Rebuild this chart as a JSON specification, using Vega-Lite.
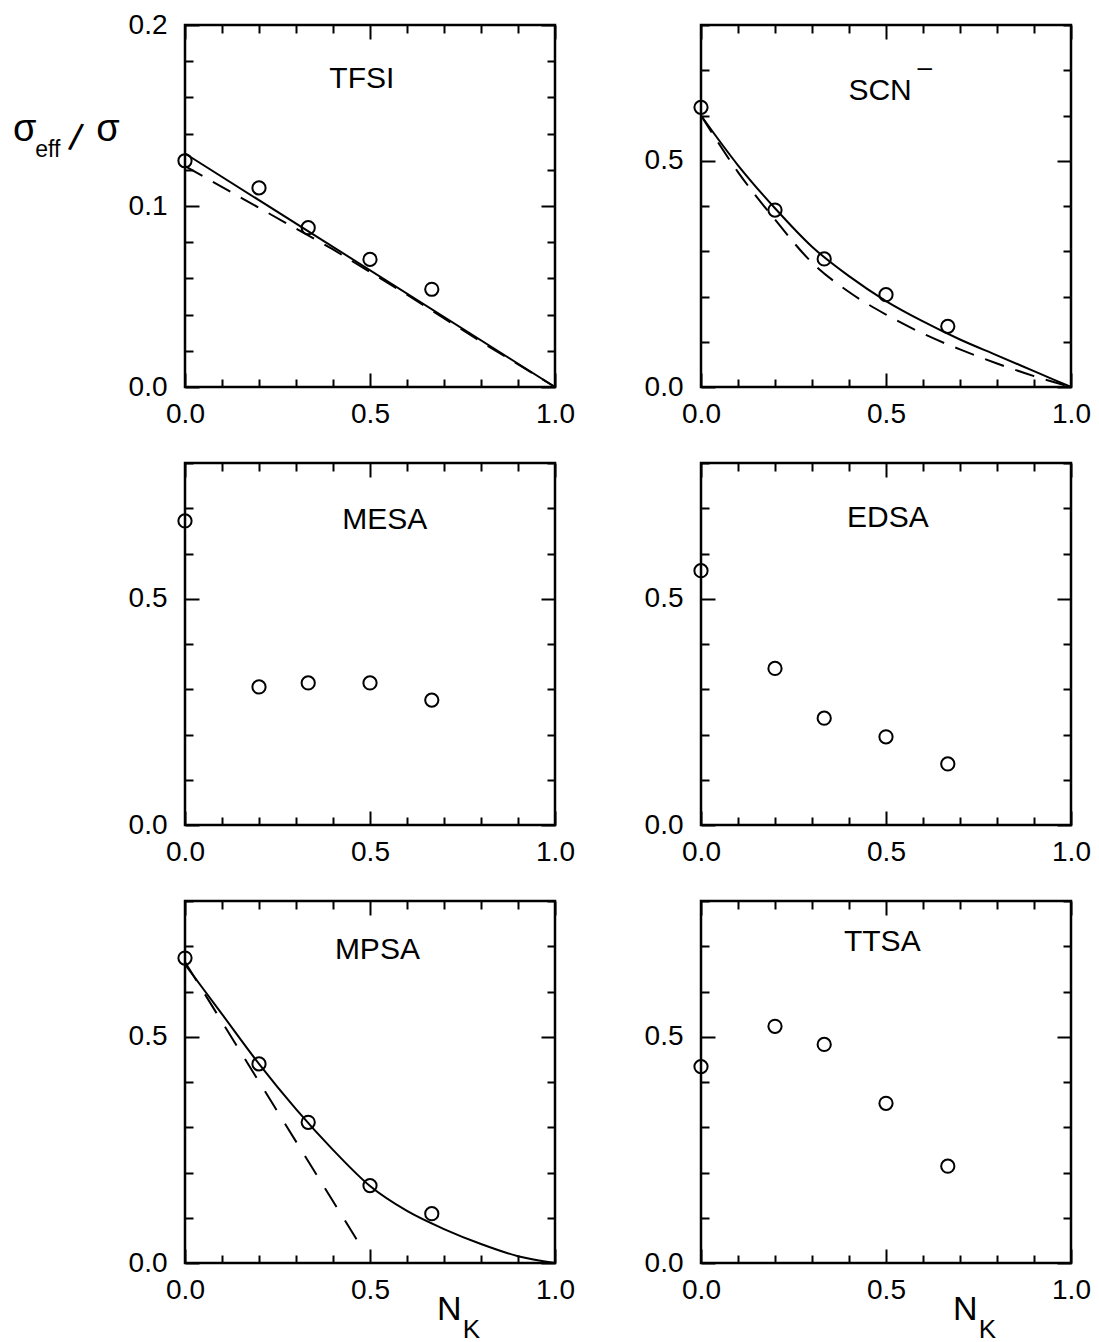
{
  "$schema": "https://vega.github.io/schema/vega-lite/v6.json",
  "padding": {"left": 11, "top": 9, "right": 5, "bottom": 2},
  "background": "white",
  "config": {
    "view": {"stroke": "black", "strokeWidth": 2.5},
    "axis": {"domain": false, "grid": false, "tickColor": "black", "tickWidth": 2, "labelFont": "Liberation Sans", "labelFontSize": 28, "labelColor": "black", "labelFlush": false, "labelOverlap": false, "title": null},
    "text": {"font": "Liberation Sans", "fill": "black"}
  },
  "datasets": {
    "one": [{"k": 1}],
    "points": [
      {"panel": "TFSI", "x": 0, "y": 0.125}, {"panel": "TFSI", "x": 0.2, "y": 0.110}, {"panel": "TFSI", "x": 0.333, "y": 0.088}, {"panel": "TFSI", "x": 0.5, "y": 0.0705}, {"panel": "TFSI", "x": 0.667, "y": 0.054},
      {"panel": "SCN", "x": 0, "y": 0.618}, {"panel": "SCN", "x": 0.2, "y": 0.391}, {"panel": "SCN", "x": 0.333, "y": 0.283}, {"panel": "SCN", "x": 0.5, "y": 0.204}, {"panel": "SCN", "x": 0.667, "y": 0.134},
      {"panel": "MESA", "x": 0, "y": 0.672}, {"panel": "MESA", "x": 0.2, "y": 0.305}, {"panel": "MESA", "x": 0.333, "y": 0.314}, {"panel": "MESA", "x": 0.5, "y": 0.314}, {"panel": "MESA", "x": 0.667, "y": 0.276},
      {"panel": "EDSA", "x": 0, "y": 0.562}, {"panel": "EDSA", "x": 0.2, "y": 0.346}, {"panel": "EDSA", "x": 0.333, "y": 0.236}, {"panel": "EDSA", "x": 0.5, "y": 0.195}, {"panel": "EDSA", "x": 0.667, "y": 0.135},
      {"panel": "MPSA", "x": 0, "y": 0.674}, {"panel": "MPSA", "x": 0.2, "y": 0.440}, {"panel": "MPSA", "x": 0.333, "y": 0.311}, {"panel": "MPSA", "x": 0.5, "y": 0.171}, {"panel": "MPSA", "x": 0.667, "y": 0.109},
      {"panel": "TTSA", "x": 0, "y": 0.434}, {"panel": "TTSA", "x": 0.2, "y": 0.523}, {"panel": "TTSA", "x": 0.333, "y": 0.483}, {"panel": "TTSA", "x": 0.5, "y": 0.353}, {"panel": "TTSA", "x": 0.667, "y": 0.214}
    ],
    "lines": [
      {"panel": "TFSI", "model": "solid", "x": 0, "y": 0.129}, {"panel": "TFSI", "model": "solid", "x": 1, "y": 0},
      {"panel": "TFSI", "model": "dashed", "x": 0, "y": 0.122}, {"panel": "TFSI", "model": "dashed", "x": 0.2, "y": 0.099}, {"panel": "TFSI", "model": "dashed", "x": 0.4, "y": 0.076}, {"panel": "TFSI", "model": "dashed", "x": 0.6, "y": 0.051}, {"panel": "TFSI", "model": "dashed", "x": 0.8, "y": 0.025}, {"panel": "TFSI", "model": "dashed", "x": 1, "y": 0},
      {"panel": "SCN", "model": "solid", "x": 0, "y": 0.60}, {"panel": "SCN", "model": "solid", "x": 0.1, "y": 0.49}, {"panel": "SCN", "model": "solid", "x": 0.2, "y": 0.395}, {"panel": "SCN", "model": "solid", "x": 0.3, "y": 0.31}, {"panel": "SCN", "model": "solid", "x": 0.4, "y": 0.245}, {"panel": "SCN", "model": "solid", "x": 0.5, "y": 0.19}, {"panel": "SCN", "model": "solid", "x": 0.6, "y": 0.145}, {"panel": "SCN", "model": "solid", "x": 0.7, "y": 0.105}, {"panel": "SCN", "model": "solid", "x": 0.8, "y": 0.07}, {"panel": "SCN", "model": "solid", "x": 0.9, "y": 0.035}, {"panel": "SCN", "model": "solid", "x": 1, "y": 0},
      {"panel": "SCN", "model": "dashed", "x": 0, "y": 0.60}, {"panel": "SCN", "model": "dashed", "x": 0.1, "y": 0.475}, {"panel": "SCN", "model": "dashed", "x": 0.2, "y": 0.37}, {"panel": "SCN", "model": "dashed", "x": 0.3, "y": 0.275}, {"panel": "SCN", "model": "dashed", "x": 0.4, "y": 0.21}, {"panel": "SCN", "model": "dashed", "x": 0.5, "y": 0.16}, {"panel": "SCN", "model": "dashed", "x": 0.6, "y": 0.118}, {"panel": "SCN", "model": "dashed", "x": 0.7, "y": 0.083}, {"panel": "SCN", "model": "dashed", "x": 0.8, "y": 0.052}, {"panel": "SCN", "model": "dashed", "x": 0.9, "y": 0.024}, {"panel": "SCN", "model": "dashed", "x": 1, "y": 0},
      {"panel": "MPSA", "model": "solid", "x": 0, "y": 0.66}, {"panel": "MPSA", "model": "solid", "x": 0.1, "y": 0.55}, {"panel": "MPSA", "model": "solid", "x": 0.2, "y": 0.44}, {"panel": "MPSA", "model": "solid", "x": 0.3, "y": 0.34}, {"panel": "MPSA", "model": "solid", "x": 0.4, "y": 0.25}, {"panel": "MPSA", "model": "solid", "x": 0.5, "y": 0.17}, {"panel": "MPSA", "model": "solid", "x": 0.6, "y": 0.115}, {"panel": "MPSA", "model": "solid", "x": 0.7, "y": 0.075}, {"panel": "MPSA", "model": "solid", "x": 0.8, "y": 0.042}, {"panel": "MPSA", "model": "solid", "x": 0.9, "y": 0.015}, {"panel": "MPSA", "model": "solid", "x": 1, "y": 0},
      {"panel": "MPSA", "model": "dashed", "x": 0, "y": 0.665}, {"panel": "MPSA", "model": "dashed", "x": 0.473, "y": 0.04}
    ]
  },
  "columns": 2,
  "bounds": "flush",
  "spacing": {"row": 76, "column": 146},
  "concat": [
    {
      "width": 370, "height": 362,
      "resolve": {"axis": {"x": "independent", "y": "independent"}},
      "layer": [
        {"data": {"name": "lines"}, "transform": [{"filter": "datum.panel == 'TFSI' && datum.model == 'solid'"}],
         "mark": {"type": "line", "color": "black", "strokeWidth": 2},
         "encoding": {"x": {"field": "x", "type": "quantitative", "scale": {"domain": [0, 1], "nice": false}, "axis": null}, "y": {"field": "y", "type": "quantitative", "scale": {"domain": [0, 0.2], "nice": false}, "axis": null}}},
        {"data": {"name": "lines"}, "transform": [{"filter": "datum.panel == 'TFSI' && datum.model == 'dashed'"}],
         "mark": {"type": "line", "color": "black", "strokeWidth": 2, "strokeDash": [20, 12]},
         "encoding": {"x": {"field": "x", "type": "quantitative", "scale": {"domain": [0, 1], "nice": false}, "axis": null}, "y": {"field": "y", "type": "quantitative", "scale": {"domain": [0, 0.2], "nice": false}, "axis": null}}},
        {"data": {"name": "points"}, "transform": [{"filter": "datum.panel == 'TFSI'"}],
         "mark": {"type": "point", "shape": "circle", "filled": false, "size": 175, "stroke": "black", "strokeWidth": 2, "opacity": 1},
         "encoding": {
           "x": {"field": "x", "type": "quantitative", "scale": {"domain": [0, 1], "nice": false},
                 "axis": {"orient": "bottom", "values": [0, 0.1, 0.2, 0.3, 0.4, 0.5, 0.6, 0.7, 0.8, 0.9, 1], "labelExpr": "datum.value == 0 || datum.value == 0.5 || datum.value == 1 ? format(datum.value, '.1f') : ''", "tickSize": {"condition": {"test": "datum.value == 0 || datum.value == 0.5 || datum.value == 1", "value": -14}, "value": -8}, "labelPadding": 27}},
           "y": {"field": "y", "type": "quantitative", "scale": {"domain": [0, 0.2], "nice": false},
                 "axis": {"orient": "left", "values": [0, 0.02, 0.04, 0.06, 0.08, 0.1, 0.12, 0.14, 0.16, 0.18, 0.2], "labelExpr": "datum.value == 0 || datum.value == 0.1 || datum.value == 0.2 ? format(datum.value, '.1f') : ''", "tickSize": {"condition": {"test": "datum.value == 0 || datum.value == 0.1 || datum.value == 0.2", "value": -14}, "value": -8}, "labelPadding": 32}}
         }},
        {"data": {"name": "one"},
         "mark": {"type": "text", "fontSize": 30, "align": "center", "baseline": "middle"},
         "encoding": {
           "x": {"datum": 0.478, "type": "quantitative", "scale": {"domain": [0, 1], "nice": false},
                 "axis": {"orient": "top", "values": [0, 0.1, 0.2, 0.3, 0.4, 0.5, 0.6, 0.7, 0.8, 0.9, 1], "labels": false, "tickSize": {"condition": {"test": "datum.value == 0 || datum.value == 0.5 || datum.value == 1", "value": -14}, "value": -8}}},
           "y": {"datum": 0.17, "type": "quantitative", "scale": {"domain": [0, 0.2], "nice": false},
                 "axis": {"orient": "right", "values": [0, 0.02, 0.04, 0.06, 0.08, 0.1, 0.12, 0.14, 0.16, 0.18, 0.2], "labels": false, "tickSize": {"condition": {"test": "datum.value == 0 || datum.value == 0.1 || datum.value == 0.2", "value": -14}, "value": -8}}},
           "text": {"value": "TFSI"}
         }},
        {"data": {"name": "one"},
         "mark": {"type": "text", "fontSize": 38, "align": "left", "baseline": "middle"},
         "encoding": {"x": {"datum": -0.465, "type": "quantitative", "scale": {"domain": [0, 1], "nice": false}, "axis": null}, "y": {"datum": 0.142, "type": "quantitative", "scale": {"domain": [0, 0.2], "nice": false}, "axis": null}, "text": {"value": "σ"}}},
        {"data": {"name": "one"},
         "mark": {"type": "text", "fontSize": 23, "align": "left", "baseline": "middle"},
         "encoding": {"x": {"datum": -0.405, "type": "quantitative", "scale": {"domain": [0, 1], "nice": false}, "axis": null}, "y": {"datum": 0.131, "type": "quantitative", "scale": {"domain": [0, 0.2], "nice": false}, "axis": null}, "text": {"value": "eff"}}},
        {"data": {"name": "one"},
         "mark": {"type": "text", "fontSize": 38, "align": "left", "baseline": "middle", "angle": 12},
         "encoding": {"x": {"datum": -0.31, "type": "quantitative", "scale": {"domain": [0, 1], "nice": false}, "axis": null}, "y": {"datum": 0.1375, "type": "quantitative", "scale": {"domain": [0, 0.2], "nice": false}, "axis": null}, "text": {"value": "/"}}},
        {"data": {"name": "one"},
         "mark": {"type": "text", "fontSize": 38, "align": "left", "baseline": "middle"},
         "encoding": {"x": {"datum": -0.24, "type": "quantitative", "scale": {"domain": [0, 1], "nice": false}, "axis": null}, "y": {"datum": 0.142, "type": "quantitative", "scale": {"domain": [0, 0.2], "nice": false}, "axis": null}, "text": {"value": "σ"}}}
      ]
    },
    {
      "width": 370, "height": 362,
      "resolve": {"axis": {"x": "independent", "y": "independent"}},
      "layer": [
        {"data": {"name": "lines"}, "transform": [{"filter": "datum.panel == 'SCN' && datum.model == 'solid'"}],
         "mark": {"type": "line", "color": "black", "strokeWidth": 2, "interpolate": "monotone"},
         "encoding": {"x": {"field": "x", "type": "quantitative", "scale": {"domain": [0, 1], "nice": false}, "axis": null}, "y": {"field": "y", "type": "quantitative", "scale": {"domain": [0, 0.8], "nice": false}, "axis": null}}},
        {"data": {"name": "lines"}, "transform": [{"filter": "datum.panel == 'SCN' && datum.model == 'dashed'"}],
         "mark": {"type": "line", "color": "black", "strokeWidth": 2, "strokeDash": [20, 12], "interpolate": "monotone"},
         "encoding": {"x": {"field": "x", "type": "quantitative", "scale": {"domain": [0, 1], "nice": false}, "axis": null}, "y": {"field": "y", "type": "quantitative", "scale": {"domain": [0, 0.8], "nice": false}, "axis": null}}},
        {"data": {"name": "points"}, "transform": [{"filter": "datum.panel == 'SCN'"}],
         "mark": {"type": "point", "shape": "circle", "filled": false, "size": 175, "stroke": "black", "strokeWidth": 2, "opacity": 1},
         "encoding": {
           "x": {"field": "x", "type": "quantitative", "scale": {"domain": [0, 1], "nice": false},
                 "axis": {"orient": "bottom", "values": [0, 0.1, 0.2, 0.3, 0.4, 0.5, 0.6, 0.7, 0.8, 0.9, 1], "labelExpr": "datum.value == 0 || datum.value == 0.5 || datum.value == 1 ? format(datum.value, '.1f') : ''", "tickSize": {"condition": {"test": "datum.value == 0 || datum.value == 0.5 || datum.value == 1", "value": -14}, "value": -8}, "labelPadding": 27}},
           "y": {"field": "y", "type": "quantitative", "scale": {"domain": [0, 0.8], "nice": false},
                 "axis": {"orient": "left", "values": [0, 0.1, 0.2, 0.3, 0.4, 0.5, 0.6, 0.7, 0.8], "labelExpr": "datum.value == 0 || datum.value == 0.5 ? format(datum.value, '.1f') : ''", "tickSize": {"condition": {"test": "datum.value == 0 || datum.value == 0.5", "value": -14}, "value": -8}, "labelPadding": 32}}
         }},
        {"data": {"name": "one"},
         "mark": {"type": "text", "fontSize": 30, "align": "center", "baseline": "middle"},
         "encoding": {
           "x": {"datum": 0.484, "type": "quantitative", "scale": {"domain": [0, 1], "nice": false},
                 "axis": {"orient": "top", "values": [0, 0.1, 0.2, 0.3, 0.4, 0.5, 0.6, 0.7, 0.8, 0.9, 1], "labels": false, "tickSize": {"condition": {"test": "datum.value == 0 || datum.value == 0.5 || datum.value == 1", "value": -14}, "value": -8}}},
           "y": {"datum": 0.655, "type": "quantitative", "scale": {"domain": [0, 0.8], "nice": false},
                 "axis": {"orient": "right", "values": [0, 0.1, 0.2, 0.3, 0.4, 0.5, 0.6, 0.7, 0.8], "labels": false, "tickSize": {"condition": {"test": "datum.value == 0 || datum.value == 0.5", "value": -14}, "value": -8}}},
           "text": {"value": "SCN"}
         }},
        {"data": {"name": "one"},
         "mark": {"type": "text", "fontSize": 26, "align": "center", "baseline": "middle"},
         "encoding": {"x": {"datum": 0.605, "type": "quantitative", "scale": {"domain": [0, 1], "nice": false}, "axis": null}, "y": {"datum": 0.705, "type": "quantitative", "scale": {"domain": [0, 0.8], "nice": false}, "axis": null}, "text": {"value": "–"}}}
      ]
    },
    {
      "width": 370, "height": 362,
      "resolve": {"axis": {"x": "independent", "y": "independent"}},
      "layer": [
        {"data": {"name": "points"}, "transform": [{"filter": "datum.panel == 'MESA'"}],
         "mark": {"type": "point", "shape": "circle", "filled": false, "size": 175, "stroke": "black", "strokeWidth": 2, "opacity": 1},
         "encoding": {
           "x": {"field": "x", "type": "quantitative", "scale": {"domain": [0, 1], "nice": false},
                 "axis": {"orient": "bottom", "values": [0, 0.1, 0.2, 0.3, 0.4, 0.5, 0.6, 0.7, 0.8, 0.9, 1], "labelExpr": "datum.value == 0 || datum.value == 0.5 || datum.value == 1 ? format(datum.value, '.1f') : ''", "tickSize": {"condition": {"test": "datum.value == 0 || datum.value == 0.5 || datum.value == 1", "value": -14}, "value": -8}, "labelPadding": 27}},
           "y": {"field": "y", "type": "quantitative", "scale": {"domain": [0, 0.8], "nice": false},
                 "axis": {"orient": "left", "values": [0, 0.1, 0.2, 0.3, 0.4, 0.5, 0.6, 0.7, 0.8], "labelExpr": "datum.value == 0 || datum.value == 0.5 ? format(datum.value, '.1f') : ''", "tickSize": {"condition": {"test": "datum.value == 0 || datum.value == 0.5", "value": -14}, "value": -8}, "labelPadding": 32}}
         }},
        {"data": {"name": "one"},
         "mark": {"type": "text", "fontSize": 30, "align": "center", "baseline": "middle"},
         "encoding": {
           "x": {"datum": 0.54, "type": "quantitative", "scale": {"domain": [0, 1], "nice": false},
                 "axis": {"orient": "top", "values": [0, 0.1, 0.2, 0.3, 0.4, 0.5, 0.6, 0.7, 0.8, 0.9, 1], "labels": false, "tickSize": {"condition": {"test": "datum.value == 0 || datum.value == 0.5 || datum.value == 1", "value": -14}, "value": -8}}},
           "y": {"datum": 0.674, "type": "quantitative", "scale": {"domain": [0, 0.8], "nice": false},
                 "axis": {"orient": "right", "values": [0, 0.1, 0.2, 0.3, 0.4, 0.5, 0.6, 0.7, 0.8], "labels": false, "tickSize": {"condition": {"test": "datum.value == 0 || datum.value == 0.5", "value": -14}, "value": -8}}},
           "text": {"value": "MESA"}
         }}
      ]
    },
    {
      "width": 370, "height": 362,
      "resolve": {"axis": {"x": "independent", "y": "independent"}},
      "layer": [
        {"data": {"name": "points"}, "transform": [{"filter": "datum.panel == 'EDSA'"}],
         "mark": {"type": "point", "shape": "circle", "filled": false, "size": 175, "stroke": "black", "strokeWidth": 2, "opacity": 1},
         "encoding": {
           "x": {"field": "x", "type": "quantitative", "scale": {"domain": [0, 1], "nice": false},
                 "axis": {"orient": "bottom", "values": [0, 0.1, 0.2, 0.3, 0.4, 0.5, 0.6, 0.7, 0.8, 0.9, 1], "labelExpr": "datum.value == 0 || datum.value == 0.5 || datum.value == 1 ? format(datum.value, '.1f') : ''", "tickSize": {"condition": {"test": "datum.value == 0 || datum.value == 0.5 || datum.value == 1", "value": -14}, "value": -8}, "labelPadding": 27}},
           "y": {"field": "y", "type": "quantitative", "scale": {"domain": [0, 0.8], "nice": false},
                 "axis": {"orient": "left", "values": [0, 0.1, 0.2, 0.3, 0.4, 0.5, 0.6, 0.7, 0.8], "labelExpr": "datum.value == 0 || datum.value == 0.5 ? format(datum.value, '.1f') : ''", "tickSize": {"condition": {"test": "datum.value == 0 || datum.value == 0.5", "value": -14}, "value": -8}, "labelPadding": 32}}
         }},
        {"data": {"name": "one"},
         "mark": {"type": "text", "fontSize": 30, "align": "center", "baseline": "middle"},
         "encoding": {
           "x": {"datum": 0.505, "type": "quantitative", "scale": {"domain": [0, 1], "nice": false},
                 "axis": {"orient": "top", "values": [0, 0.1, 0.2, 0.3, 0.4, 0.5, 0.6, 0.7, 0.8, 0.9, 1], "labels": false, "tickSize": {"condition": {"test": "datum.value == 0 || datum.value == 0.5 || datum.value == 1", "value": -14}, "value": -8}}},
           "y": {"datum": 0.678, "type": "quantitative", "scale": {"domain": [0, 0.8], "nice": false},
                 "axis": {"orient": "right", "values": [0, 0.1, 0.2, 0.3, 0.4, 0.5, 0.6, 0.7, 0.8], "labels": false, "tickSize": {"condition": {"test": "datum.value == 0 || datum.value == 0.5", "value": -14}, "value": -8}}},
           "text": {"value": "EDSA"}
         }}
      ]
    },
    {
      "width": 370, "height": 362,
      "resolve": {"axis": {"x": "independent", "y": "independent"}},
      "layer": [
        {"data": {"name": "lines"}, "transform": [{"filter": "datum.panel == 'MPSA' && datum.model == 'solid'"}],
         "mark": {"type": "line", "color": "black", "strokeWidth": 2, "interpolate": "monotone"},
         "encoding": {"x": {"field": "x", "type": "quantitative", "scale": {"domain": [0, 1], "nice": false}, "axis": null}, "y": {"field": "y", "type": "quantitative", "scale": {"domain": [0, 0.8], "nice": false}, "axis": null}}},
        {"data": {"name": "lines"}, "transform": [{"filter": "datum.panel == 'MPSA' && datum.model == 'dashed'"}],
         "mark": {"type": "line", "color": "black", "strokeWidth": 2, "strokeDash": [22, 16]},
         "encoding": {"x": {"field": "x", "type": "quantitative", "scale": {"domain": [0, 1], "nice": false}, "axis": null}, "y": {"field": "y", "type": "quantitative", "scale": {"domain": [0, 0.8], "nice": false}, "axis": null}}},
        {"data": {"name": "points"}, "transform": [{"filter": "datum.panel == 'MPSA'"}],
         "mark": {"type": "point", "shape": "circle", "filled": false, "size": 175, "stroke": "black", "strokeWidth": 2, "opacity": 1},
         "encoding": {
           "x": {"field": "x", "type": "quantitative", "scale": {"domain": [0, 1], "nice": false},
                 "axis": {"orient": "bottom", "values": [0, 0.1, 0.2, 0.3, 0.4, 0.5, 0.6, 0.7, 0.8, 0.9, 1], "labelExpr": "datum.value == 0 || datum.value == 0.5 || datum.value == 1 ? format(datum.value, '.1f') : ''", "tickSize": {"condition": {"test": "datum.value == 0 || datum.value == 0.5 || datum.value == 1", "value": -14}, "value": -8}, "labelPadding": 27}},
           "y": {"field": "y", "type": "quantitative", "scale": {"domain": [0, 0.8], "nice": false},
                 "axis": {"orient": "left", "values": [0, 0.1, 0.2, 0.3, 0.4, 0.5, 0.6, 0.7, 0.8], "labelExpr": "datum.value == 0 || datum.value == 0.5 ? format(datum.value, '.1f') : ''", "tickSize": {"condition": {"test": "datum.value == 0 || datum.value == 0.5", "value": -14}, "value": -8}, "labelPadding": 32}}
         }},
        {"data": {"name": "one"},
         "mark": {"type": "text", "fontSize": 30, "align": "center", "baseline": "middle"},
         "encoding": {
           "x": {"datum": 0.52, "type": "quantitative", "scale": {"domain": [0, 1], "nice": false},
                 "axis": {"orient": "top", "values": [0, 0.1, 0.2, 0.3, 0.4, 0.5, 0.6, 0.7, 0.8, 0.9, 1], "labels": false, "tickSize": {"condition": {"test": "datum.value == 0 || datum.value == 0.5 || datum.value == 1", "value": -14}, "value": -8}}},
           "y": {"datum": 0.692, "type": "quantitative", "scale": {"domain": [0, 0.8], "nice": false},
                 "axis": {"orient": "right", "values": [0, 0.1, 0.2, 0.3, 0.4, 0.5, 0.6, 0.7, 0.8], "labels": false, "tickSize": {"condition": {"test": "datum.value == 0 || datum.value == 0.5", "value": -14}, "value": -8}}},
           "text": {"value": "MPSA"}
         }},
        {"data": {"name": "one"},
         "mark": {"type": "text", "fontSize": 34, "align": "center", "baseline": "middle"},
         "encoding": {"x": {"datum": 0.714, "type": "quantitative", "scale": {"domain": [0, 1], "nice": false}, "axis": null}, "y": {"datum": -0.104, "type": "quantitative", "scale": {"domain": [0, 0.8], "nice": false}, "axis": null}, "text": {"value": "N"}}},
        {"data": {"name": "one"},
         "mark": {"type": "text", "fontSize": 26, "align": "center", "baseline": "middle"},
         "encoding": {"x": {"datum": 0.774, "type": "quantitative", "scale": {"domain": [0, 1], "nice": false}, "axis": null}, "y": {"datum": -0.148, "type": "quantitative", "scale": {"domain": [0, 0.8], "nice": false}, "axis": null}, "text": {"value": "K"}}}
      ]
    },
    {
      "width": 370, "height": 362,
      "resolve": {"axis": {"x": "independent", "y": "independent"}},
      "layer": [
        {"data": {"name": "points"}, "transform": [{"filter": "datum.panel == 'TTSA'"}],
         "mark": {"type": "point", "shape": "circle", "filled": false, "size": 175, "stroke": "black", "strokeWidth": 2, "opacity": 1},
         "encoding": {
           "x": {"field": "x", "type": "quantitative", "scale": {"domain": [0, 1], "nice": false},
                 "axis": {"orient": "bottom", "values": [0, 0.1, 0.2, 0.3, 0.4, 0.5, 0.6, 0.7, 0.8, 0.9, 1], "labelExpr": "datum.value == 0 || datum.value == 0.5 || datum.value == 1 ? format(datum.value, '.1f') : ''", "tickSize": {"condition": {"test": "datum.value == 0 || datum.value == 0.5 || datum.value == 1", "value": -14}, "value": -8}, "labelPadding": 27}},
           "y": {"field": "y", "type": "quantitative", "scale": {"domain": [0, 0.8], "nice": false},
                 "axis": {"orient": "left", "values": [0, 0.1, 0.2, 0.3, 0.4, 0.5, 0.6, 0.7, 0.8], "labelExpr": "datum.value == 0 || datum.value == 0.5 ? format(datum.value, '.1f') : ''", "tickSize": {"condition": {"test": "datum.value == 0 || datum.value == 0.5", "value": -14}, "value": -8}, "labelPadding": 32}}
         }},
        {"data": {"name": "one"},
         "mark": {"type": "text", "fontSize": 30, "align": "center", "baseline": "middle"},
         "encoding": {
           "x": {"datum": 0.49, "type": "quantitative", "scale": {"domain": [0, 1], "nice": false},
                 "axis": {"orient": "top", "values": [0, 0.1, 0.2, 0.3, 0.4, 0.5, 0.6, 0.7, 0.8, 0.9, 1], "labels": false, "tickSize": {"condition": {"test": "datum.value == 0 || datum.value == 0.5 || datum.value == 1", "value": -14}, "value": -8}}},
           "y": {"datum": 0.709, "type": "quantitative", "scale": {"domain": [0, 0.8], "nice": false},
                 "axis": {"orient": "right", "values": [0, 0.1, 0.2, 0.3, 0.4, 0.5, 0.6, 0.7, 0.8], "labels": false, "tickSize": {"condition": {"test": "datum.value == 0 || datum.value == 0.5", "value": -14}, "value": -8}}},
           "text": {"value": "TTSA"}
         }},
        {"data": {"name": "one"},
         "mark": {"type": "text", "fontSize": 34, "align": "center", "baseline": "middle"},
         "encoding": {"x": {"datum": 0.714, "type": "quantitative", "scale": {"domain": [0, 1], "nice": false}, "axis": null}, "y": {"datum": -0.104, "type": "quantitative", "scale": {"domain": [0, 0.8], "nice": false}, "axis": null}, "text": {"value": "N"}}},
        {"data": {"name": "one"},
         "mark": {"type": "text", "fontSize": 26, "align": "center", "baseline": "middle"},
         "encoding": {"x": {"datum": 0.774, "type": "quantitative", "scale": {"domain": [0, 1], "nice": false}, "axis": null}, "y": {"datum": -0.148, "type": "quantitative", "scale": {"domain": [0, 0.8], "nice": false}, "axis": null}, "text": {"value": "K"}}}
      ]
    }
  ]
}
